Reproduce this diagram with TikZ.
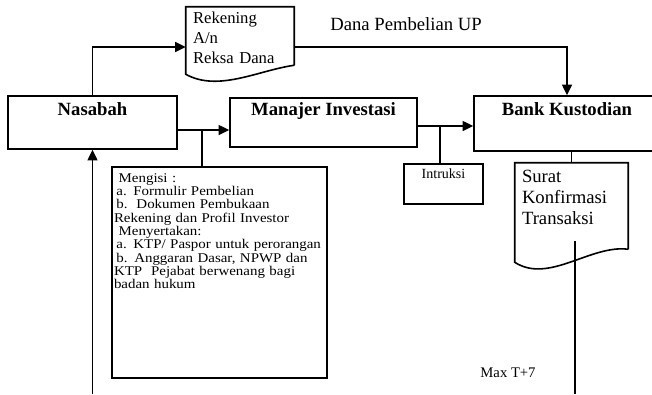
\documentclass[tikz,border=0pt]{standalone}
\usepackage{fontspec}
\setmainfont{Liberation Serif}
\newfontfamily\widefont[FakeStretch=1.12]{Liberation Serif}
\usepackage{tikz}
\usetikzlibrary{calc,arrows.meta}
\def\docshape(#1)(#2:#3:#4){\draw[line width=1.2pt] ($(#1.south east)+(0,#2)$) -- (#1.north east) -- (#1.north west) -- (#1.south west) .. controls ($(#1.south west)!0.3!(#1.south east)+(0,#3)$) and ($(#1.south west)!0.67!(#1.south east)+(0,#4)$) .. ($(#1.south east)+(0,#2)$);}
\tikzset{
	box/.style={draw, line width=1.2pt, rectangle, inner ysep=0pt, font=\fontsize{14}{16}\selectfont\bfseries},
	doc/.style={rectangle, inner ysep=0pt, inner xsep=5.25pt, align=left},
	arr/.style={line width=1.2pt, -{Triangle[length=8pt,width=7.5pt]}},
	ln/.style={line width=1.2pt}
}

\begin{document}
\begin{tikzpicture}[x=0.75pt, y=-0.75pt]
			%%%%% START %%%%%
			\useasboundingbox (0,0) rectangle (652,394);
			
			\node[box, minimum width=126.75pt, text height=14.25pt, text depth=25.5pt] (nasabah) at (92.5,122.5) {Nasabah};
			\node[box, minimum width=140.25pt, text height=12.75pt, text depth=24pt] (manajer) at (323.5,122.5) {Manajer Investasi};
			\node[box, minimum width=139.5pt, text height=14.25pt, text depth=27pt] (bank) at (567,123.5) {Bank Kustodian};
			
			\node[doc, text width=70.5pt, text height=12pt, text depth=38.25pt, font=\fontsize{12.5}{15}\selectfont] (rek) at (240,40.5) {Rekening\\A/n\\Reksa Dana};
			\docshape(rek)(-9:18:-4)
			
			\node[doc, text width=74.25pt, text height=14.25pt, text depth=60pt, font=\fontsize{14}{16}\selectfont] (surat) at (571.5,212.5) {Surat\\Konfirmasi\\Transaksi};
			\docshape(surat)(-13:22:-18)
			
			\node[draw, line width=1.2pt, inner ysep=0pt, minimum width=59.25pt, text height=10.5pt, text depth=19.5pt, font=\fontsize{10.5}{12}\selectfont] (intruksi) at (443.5,184) {Intruksi};
			
			\node[draw, line width=1.2pt, inner ysep=0pt, inner xsep=1.5pt, text width=158.25pt, align=left, text height=11.25pt, text depth=147pt, font=\widefont\fontsize{10}{10}\selectfont] (mengisi) at (219.5,272.5) {\hspace*{3.5pt}Mengisi :\\
				\hspace*{1.8pt}a. Formulir Pembelian\\
				\hspace*{1.8pt}b.\ \ Dokumen Pembukaan\\
				Rekening dan Profil Investor\\
				\hspace*{3.5pt}Menyertakan:\\
				\hspace*{1.8pt}a. KTP/ Paspor untuk perorangan\\
				\hspace*{1.8pt}b. Anggaran Dasar, NPWP dan\\
				KTP\ \ Pejabat berwenang bagi\\
				badan hukum};
			
			\node[font=\fontsize{14}{16}\selectfont] (dana) at (406,24) {Dana Pembelian UP};
			\node[font=\fontsize{11}{13}\selectfont] (maxt) at (508,373) {Max T+7};
			
			\coordinate (j1) at (202,130);
			\coordinate (j2) at (440,126);
			\coordinate (back) at (92.5,394);
			\coordinate (t7top) at (575,241);
			\coordinate (t7bot) at (575,394);
			
			% arrows
			\draw[arr] (nasabah.north) |- ([yshift=-4.875pt]rek.west);
			\draw[arr] ([yshift=-4.875pt]rek.east) -| (bank.north);
			\draw[arr] (nasabah.east |- j1) -- (manajer.west |- j1);
			\draw[ln] (j1) -- (j1 |- mengisi.north);
			\draw[arr] (manajer.east |- j2) -- (bank.west |- j2);
			\draw[ln] (j2) -- (j2 |- intruksi.north);
			\draw[ln] (surat.north) -- (surat.north |- bank.south);
			\draw[arr] (back) -- (nasabah.south);
			\draw[ln] (t7top) -- (t7bot);
			
			%%%%% END %%%%%
\end{tikzpicture}
\end{document}
